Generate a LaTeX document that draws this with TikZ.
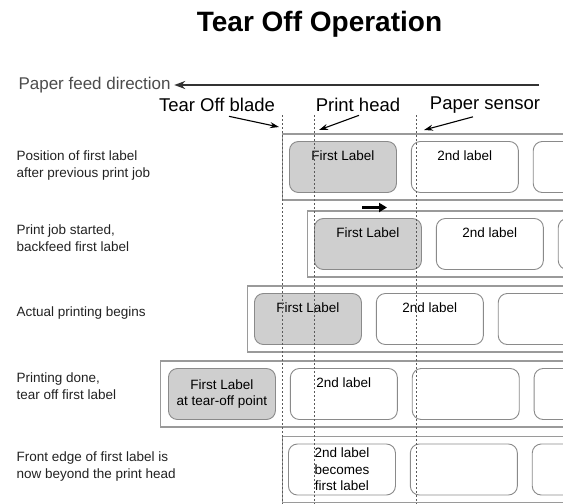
\documentclass[tikz,border=0pt]{standalone}
\usepackage{fontspec}
\setmainfont{Liberation Sans}
\usepackage{tikz}
\usetikzlibrary{positioning,arrows.meta}
\definecolor{labelgray}{HTML}{CFCFCF}
\definecolor{edgegray}{HTML}{8A8A8A}
\definecolor{stripgray}{HTML}{9A9A9A}
\definecolor{guidegray}{HTML}{5A5A5A}
\definecolor{darktext}{HTML}{222222}

\begin{document}
\begin{tikzpicture}[x=1pt,y=-1pt,
  strip/.style={draw=stripgray,line width=1.2pt,minimum width=420pt,minimum height=66pt,inner sep=0pt,anchor=west},
  lbl/.style={draw=edgegray,line width=0.9pt,rounded corners=9pt,minimum width=107pt,minimum height=51pt,inner sep=0pt,align=center,font=\fontsize{13.5}{16.5}\selectfont},
  firstlbl/.style={lbl,fill=labelgray},
  toptext/.style={label={[anchor=north,yshift=-9pt,inner sep=0pt,font=\fontsize{13.5}{16.5}\selectfont]north:#1}},
  steptext/.style={anchor=west,align=left,text=darktext,font=\fontsize{13.5}{17}\selectfont},
  caption/.style={font=\fontsize{18.5}{20}\selectfont},
  guide/.style={guidegray,line width=0.7pt,dash pattern=on 2pt off 2pt},
  arr/.style={-{Stealth[length=9pt,width=6pt]},line width=1.1pt}
]
  \useasboundingbox (0,0) rectangle (563,504);
  \clip (0,0) rectangle (563,504);

  % title and feed direction
  \node[font=\bfseries\fontsize{28}{30}\selectfont] (title) at (319.5,24) {Tear Off Operation};
  \node[anchor=west,text=black!70,font=\fontsize{17}{20}\selectfont] (feed) at (15,85) {Paper feed direction};
  \coordinate (feedend) at (539,85);
  \draw[-{Stealth[length=11pt,width=8pt]},line width=1.8pt,black!80] (feedend) -- (feed.east);

  % captions with pointers
  \node[caption] (blade) at (217,105) {Tear Off blade};
  \node[caption] (head) at (358,105) {Print head};
  \node[caption] (sensor) at (485,105) {Paper sensor};
  \coordinate (bladetip) at (279,127);
  \coordinate (headtip) at (319,130);
  \coordinate (sensortip) at (424,130);
  \draw[arr] ([xshift=12pt,yshift=-1pt]blade.south) -- (bladetip);
  \draw[arr] ([xshift=1pt]head.south) -- (headtip);
  \draw[arr] ([xshift=-12pt]sensor.south) -- (sensortip);

  % row 1
  \node[strip] (s1) at (282,167) {};
  \node[firstlbl,toptext=First Label,right=7pt of s1.west] (r1a) {};
  \node[lbl,toptext=2nd label,right=14pt of r1a] (r1b) {};
  \node[lbl,right=14pt of r1b] (r1c) {};
  \node[steptext] (t1) at (13,165.5) {Position of first label\\after previous print job};

  % row 2
  \node[strip] (s2) at (307,244) {};
  \node[firstlbl,toptext=First Label,right=7pt of s2.west] (r2a) {};
  \node[lbl,toptext=2nd label,right=14pt of r2a] (r2b) {};
  \node[lbl,right=14pt of r2b] (r2c) {};
  \node[steptext] (t2) at (13,238.5) {Print job started,\\backfeed first label};
  \coordinate (backfrom) at (362,207.5);
  \coordinate (backto) at (387,207.5);
  \draw[-{Triangle[length=8pt,width=9pt]},line width=2.6pt] (backfrom) -- (backto);

  % row 3
  \node[strip] (s3) at (247,319) {};
  \node[firstlbl,toptext=First Label,right=7pt of s3.west] (r3a) {};
  \node[lbl,toptext=2nd label,right=14pt of r3a] (r3b) {};
  \node[lbl,right=14pt of r3b] (r3c) {};
  \node[steptext] (t3) at (13,313) {Actual printing begins};

  % row 4
  \node[strip] (s4) at (160,394) {};
  \node[firstlbl,right=8pt of s4.west] (r4a) {First Label\\at tear-off point};
  \node[lbl,toptext=2nd label,right=14pt of r4a] (r4b) {};
  \node[lbl,right=14pt of r4b] (r4c) {};
  \node[lbl,right=14pt of r4c] (r4d) {};
  \node[steptext] (t4) at (13,386.5) {Printing done,\\tear off first label};

  % row 5
  \node[strip] (s5) at (282,469.5) {};
  \node[lbl,right=6pt of s5.west] (r5a) {2nd label\\becomes\\first label};
  \node[lbl,right=14pt of r5a] (r5b) {};
  \node[lbl,right=14pt of r5b] (r5c) {};
  \node[steptext] (t5) at (13,467) {Front edge of first label is\\now beyond the print head};

  % guide lines
  \coordinate (gblade) at (282,115);
  \coordinate (ghead) at (314,115);
  \coordinate (gsensor) at (416,115);
  \foreach \g in {gblade,ghead,gsensor}
    \draw[guide] (\g) -- (\g |- 0,504);
\end{tikzpicture}
\end{document}
